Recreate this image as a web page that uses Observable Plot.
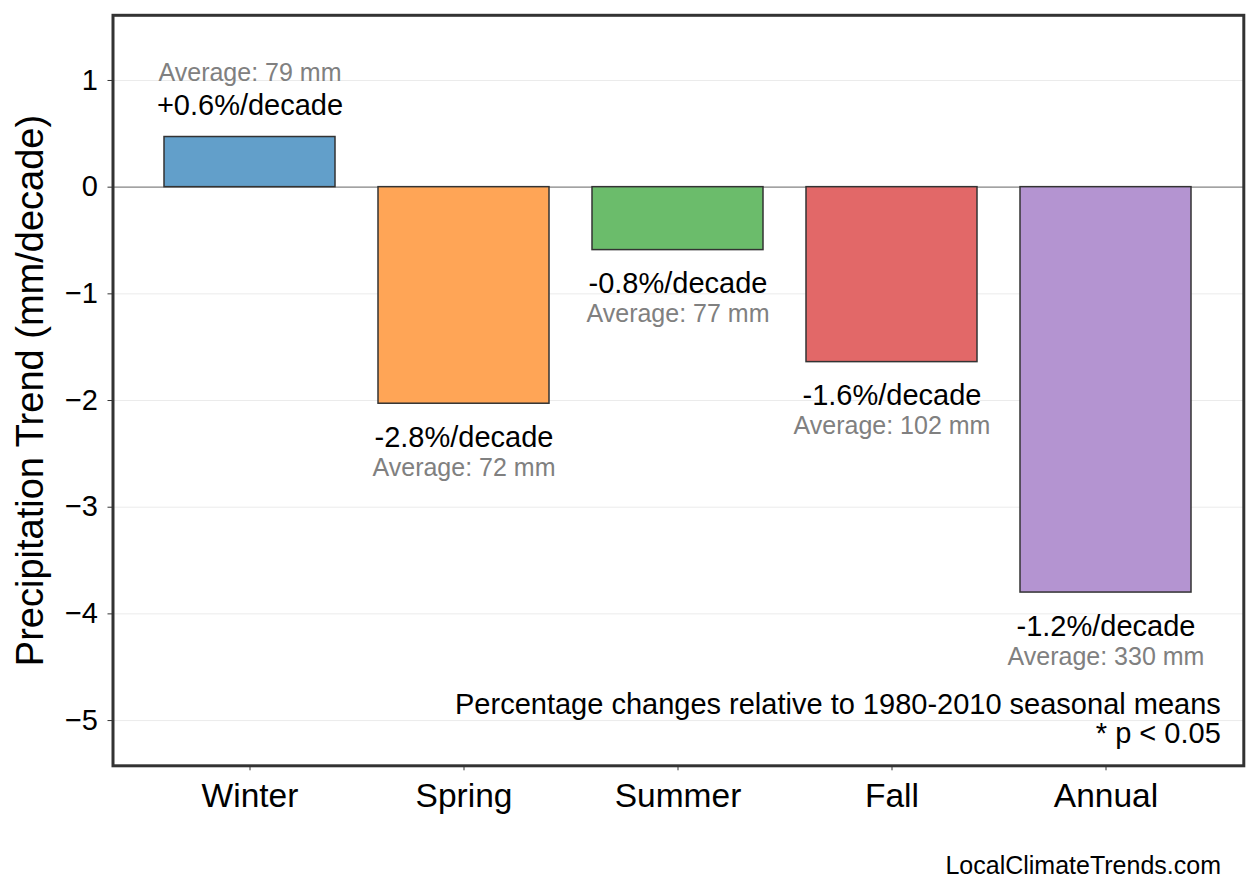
<!DOCTYPE html>
<html><head><meta charset="utf-8">
<script src="https://cdn.jsdelivr.net/npm/d3@7"></script>
<script src="https://cdn.jsdelivr.net/npm/@observablehq/plot@0.6"></script>
<style>
body{margin:0;background:#fff;}
#wrap{position:relative;width:1258px;height:893px;font-family:"Liberation Sans",Arial,Helvetica,sans-serif;background:#fff;}
#footer{position:absolute;right:37px;top:851px;font-size:25px;color:#000;white-space:nowrap;font-family:"Liberation Sans",Arial,Helvetica,sans-serif;}
</style></head><body>
<div id="wrap"><div id="chart"></div><div id="footer"></div></div>
<script>
const seasons = ["Winter", "Spring", "Summer", "Fall", "Annual"];
const trends = [0.47, -2.03, -0.59, -1.64, -3.80];
const pctChanges = [0.6, -2.8, -0.8, -1.6, -1.2];
const averages = [79, 72, 77, 102, 330];
const barColors = ["#629fca", "#ffa556", "#6bbc6b", "#e26868", "#b494d1"];
const yTicks = [-5, -4, -3, -2, -1, 0, 1];
const yDomain = [-5.424, 1.611];
const yLabel = "Precipitation Trend (mm/decade)";
const footnoteLines = ["Percentage changes relative to 1980-2010 seasonal means", "* p < 0.05"];
const footerText = "LocalClimateTrends.com";

const data = seasons.map((s, i) => ({season: s, value: trends[i], pct: pctChanges[i], avg: averages[i], color: barColors[i]}));
const fmtPct = p => (p > 0 ? "+" : "") + p.toFixed(1) + "%/decade";
const fmtAvg = a => `Average: ${a} mm`;
const pos = data.filter(d => d.value >= 0);
const neg = data.filter(d => d.value < 0);
const FONT = "'Liberation Sans', Arial, Helvetica, sans-serif";

const chart = Plot.plot({
  width: 1258,
  height: 840,
  marginLeft: 112.5,
  marginRight: 14.7,
  marginTop: 14.8,
  marginBottom: 74.7,
  style: {fontFamily: FONT, fontSize: "28px", color: "#000", background: "#fff", overflow: "visible"},
  x: {domain: seasons, paddingInner: 0.2, paddingOuter: 0.236, label: null},
  y: {domain: yDomain, label: null},
  color: {type: "identity"},
  marks: [
    Plot.gridY(yTicks, {stroke: "#ebebeb", strokeOpacity: 1, strokeWidth: 1}),
    Plot.ruleY([0], {stroke: "#888", strokeWidth: 1.2}),
    Plot.barY(data, {x: "season", y: "value", fill: d => d.color, stroke: "#333", strokeWidth: 1.5}),
    Plot.text(pos, {x: "season", y: "value", text: d => fmtPct(d.pct), dy: -31, fontSize: 29, fill: "#000", lineAnchor: "middle"}),
    Plot.text(pos, {x: "season", y: "value", text: d => fmtAvg(d.avg), dy: -64.5, fontSize: 25, fill: "#808080", lineAnchor: "middle"}),
    Plot.text(neg, {x: "season", y: "value", text: d => fmtPct(d.pct), dy: 34, fontSize: 29, fill: "#000", lineAnchor: "middle"}),
    Plot.text(neg, {x: "season", y: "value", text: d => fmtAvg(d.avg), dy: 64, fontSize: 25, fill: "#808080", lineAnchor: "middle"}),
    Plot.text([footnoteLines[0]], {frameAnchor: "bottom-right", text: d => d, dx: -23, dy: -61, fontSize: 29, fill: "#000", textAnchor: "end", lineAnchor: "middle"}),
    Plot.text([footnoteLines[1]], {frameAnchor: "bottom-right", text: d => d, dx: -23, dy: -32, fontSize: 29, fill: "#000", textAnchor: "end", lineAnchor: "middle"}),
    Plot.frame({stroke: "#333", strokeWidth: 3}),
    Plot.axisY(yTicks, {tickSize: 5, tickPadding: 10, fontSize: 29, tickFormat: d3.format("d"), label: null, stroke: "#333", fill: "#000"}),
    Plot.axisX({tickSize: 5, tickPadding: 12, fontSize: 33.5, label: null, stroke: "#333", fill: "#000"}),
    Plot.text([yLabel], {frameAnchor: "left", text: d => d, rotate: -90, dx: -82, fontSize: 38, fill: "#000", textAnchor: "middle", lineAnchor: "middle"})
  ]
});
document.getElementById("chart").appendChild(chart);
document.getElementById("footer").textContent = footerText;
</script>
</body></html>
